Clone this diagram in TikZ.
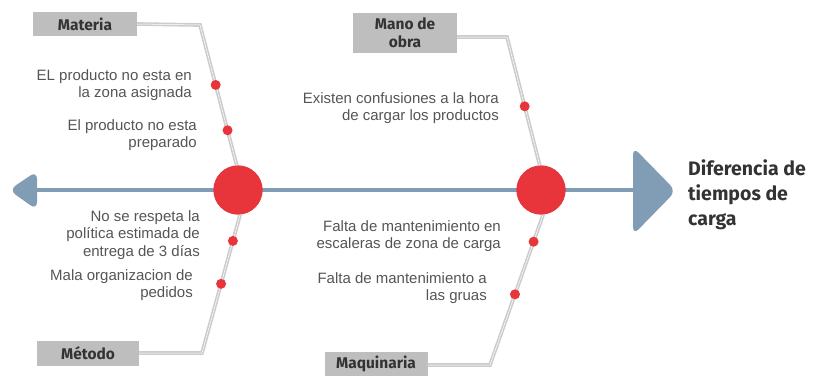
\documentclass[tikz,border=0pt]{standalone}
\usepackage{fontspec}
\setmainfont{Liberation Sans}
\newfontfamily\labelfont{Fira Sans}
\usetikzlibrary{calc}
\definecolor{spinecol}{HTML}{819DB5}
\definecolor{dotred}{HTML}{E8353B}
\definecolor{boxgray}{HTML}{BEBEBE}
\definecolor{txtgray}{HTML}{555555}
\definecolor{txtdark}{HTML}{333333}
\definecolor{branchgray}{HTML}{CCCCCC}
\tikzset{
  spine/.style={draw=spinecol, line width=4pt},
  head/.style={fill=spinecol, rounded corners=8pt},
  bigdot/.style={circle, fill=dotred, minimum size=49pt, inner sep=0pt},
  smalldot/.style={circle, fill=dotred, minimum size=10pt, inner sep=0pt},
  catbox/.style={fill=boxgray, inner sep=0pt, font=\labelfont\bfseries\fontsize{15.5}{16}\selectfont, text=txtdark, align=center},
  branch/.style={draw=branchgray, line width=1.6pt, double=white, double distance=0.5pt},
  cause/.style={anchor=east, align=right, inner sep=0pt, text=txtgray, font=\fontsize{15}{17.5}\selectfont},
  effect/.style={anchor=west, align=left, inner sep=0pt, text=txtdark, font=\labelfont\bfseries\fontsize{19.5}{25}\selectfont}
}
\begin{document}
\begin{tikzpicture}[x=1pt,y=-1pt]
\useasboundingbox (0,0) rectangle (813,375);
% spine and heads
\coordinate (L) at (34,190);
\coordinate (R) at (636,190);
\fill[head] (37,171) -- (9,190) -- (37,210) -- cycle;
\fill[head] (633,147) -- (676,191) -- (633,235) -- cycle;
\draw[spine] (L) -- (R);
% boxes
\node[catbox, minimum width=104pt, minimum height=24pt] (materia) at (85,24) {Materia};
\node[catbox, minimum width=102pt, minimum height=25pt] (metodo) at (88,353) {Método};
\node[catbox, minimum width=104pt, minimum height=40pt, font=\labelfont\bfseries\fontsize{15.5}{18}\selectfont] (mano) at (405,33) {Mano de\\obra};
\node[catbox, minimum width=103pt, minimum height=24pt] (maq) at (376,364) {Maquinaria};
% corner points
\coordinate (m1) at (200,25);
\coordinate (m2) at (202,353);
\coordinate (m3) at (507,37);
\coordinate (m4) at (490,365);
% big circles
\node[bigdot] (c1) at (238,190) {};
\node[bigdot] (c2) at (541,190) {};
% branches
\draw[branch] (materia.east) -- (m1) -- (c1.93);
\draw[branch] (metodo.east) -- (m2) -- (c1.-85);
\draw[branch] (mano.east |- m3) -- (m3) -- (c2.93);
\draw[branch] (maq.east |- m4) -- (m4) -- (c2.-85);
\node[bigdot] at (c1) {};
\node[bigdot] at (c2) {};
% small dots
\node[smalldot] (d1) at ($(m1)!0.427!(c1.93)$) {};
\node[smalldot] (d2) at ($(m1)!0.75!(c1.93)$) {};
\node[smalldot] (d3) at ($(c1.-85)!0.19!(m2)$) {};
\node[smalldot] (d4) at ($(c1.-85)!0.50!(m2)$) {};
\node[smalldot] (d5) at ($(m3)!0.54!(c2.93)$) {};
\node[smalldot] (d6) at ($(c2.-85)!0.18!(m4)$) {};
\node[smalldot] (d7) at ($(c2.-85)!0.53!(m4)$) {};
% causes
\node[cause] (t1) at (192,85) {EL producto no esta en\\la zona asignada};
\node[cause] (t2) at (197,135) {El producto no esta\\preparado};
\node[cause] (t3) at (200,235) {No se respeta la\\política estimada de\\entrega de 3 días};
\node[cause] (t4) at (193,285) {Mala organizacion de\\pedidos};
\node[cause] (t5) at (499,108) {Existen confusiones a la hora\\de cargar los productos};
\node[cause] (t6) at (501,236) {Falta de mantenimiento en\\escaleras de zona de carga};
\node[cause] (t7) at (487,288) {Falta de mantenimiento a\\las gruas};
% effect
\node[effect] (eff) at (688,195) {Diferencia de\\tiempos de\\carga};
\end{tikzpicture}
\end{document}
